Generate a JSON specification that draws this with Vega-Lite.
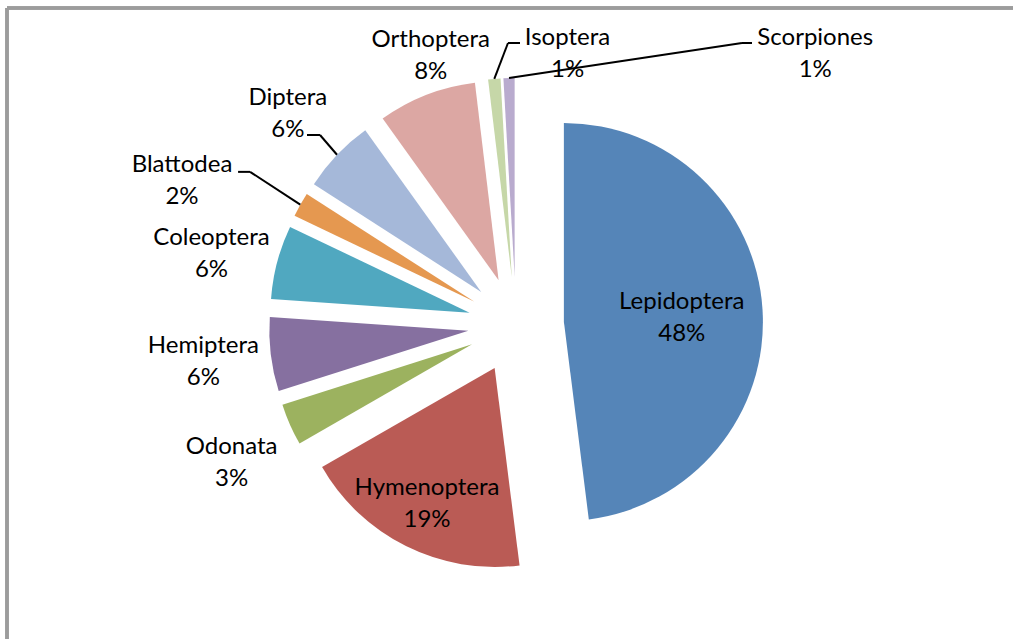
{
  "$schema": "https://vega.github.io/schema/vega-lite/v6.json",
  "width": 1006,
  "height": 631,
  "autosize": {"type": "none"},
  "padding": {"left": 7, "top": 8, "right": 0, "bottom": 0},
  "background": "white",
  "config": {"view": {"stroke": null}},
  "data": {
    "values": [
      {"order": 1, "name": "Lepidoptera", "pct": 48},
      {"order": 2, "name": "Hymenoptera", "pct": 18.7},
      {"order": 3, "name": "Odonata", "pct": 3.4},
      {"order": 4, "name": "Hemiptera", "pct": 6},
      {"order": 5, "name": "Coleoptera", "pct": 6},
      {"order": 6, "name": "Blattodea", "pct": 2},
      {"order": 7, "name": "Diptera", "pct": 6},
      {"order": 8, "name": "Orthoptera", "pct": 8},
      {"order": 9, "name": "Isoptera", "pct": 1},
      {"order": 10, "name": "Scorpiones", "pct": 0.9}
    ]
  },
  "transform": [
    {"stack": "pct", "groupby": [], "sort": [{"field": "order"}], "as": ["s0", "s1"]},
    {"calculate": "PI * (datum.s0 + datum.s1) / 100", "as": "mid"},
    {"calculate": "sin(datum.mid)", "as": "ex"},
    {"calculate": "cos(datum.mid)", "as": "ey"},
    {"calculate": "datum.pct > 30 ? 3.46 : datum.pct > 10 ? 4.16 : 6.56", "as": "L"},
    {"calculate": "datum.name == 'Orthoptera' ? 0.60 : datum.name == 'Blattodea' ? -1.23 : datum.name == 'Isoptera' ? 1.65 : datum.name == 'Scorpiones' ? 6.42 : datum.name == 'Odonata' ? 0.08 : 0", "as": "tx"},
    {"calculate": "datum.name == 'Orthoptera' ? -0.50 : datum.name == 'Blattodea' ? -0.20 : datum.name == 'Isoptera' ? -0.885 : datum.name == 'Scorpiones' ? -0.906 : datum.name == 'Odonata' ? -0.23 : datum.name == 'Coleoptera' ? -0.2 : datum.name == 'Diptera' ? -0.12 : datum.name == 'Lepidoptera' ? -0.08 : 0", "as": "ty"},
    {"calculate": "datum.ex * datum.L + datum.tx", "as": "lx"},
    {"calculate": "datum.ey * datum.L + datum.ty", "as": "ly"},
    {"calculate": "datum.name + '\\n' + format(datum.pct, '.0f') + '%'", "as": "label"}
  ],
  "layer": [
    {
      "mark": {"type": "rule", "stroke": "#9c9c9c", "strokeWidth": 2.5},
      "encoding": {
        "y": {"datum": 6.604, "type": "quantitative", "scale": {"domain": [-6.542, 6.604]}, "axis": null}
      }
    },
    {
      "mark": {"type": "rule", "stroke": "#9c9c9c", "strokeWidth": 2.5},
      "encoding": {
        "x": {"datum": -10.604, "type": "quantitative", "scale": {"domain": [-10.604, 10.354]}, "axis": null}
      }
    },
    {
      "mark": {"type": "arc", "radius": 199},
      "encoding": {
        "theta": {"field": "s0", "type": "quantitative", "stack": null, "scale": {"domain": [0, 100], "range": [0, 6.283185307]}},
        "theta2": {"field": "s1"},
        "x": {"field": "ex", "type": "quantitative", "scale": {"domain": [-10.604, 10.354]}, "axis": null},
        "y": {"field": "ey", "type": "quantitative", "scale": {"domain": [-6.542, 6.604]}, "axis": null},
        "color": {
          "field": "name",
          "type": "nominal",
          "legend": null,
          "scale": {
            "domain": ["Lepidoptera", "Hymenoptera", "Odonata", "Hemiptera", "Coleoptera", "Blattodea", "Diptera", "Orthoptera", "Isoptera", "Scorpiones"],
            "range": ["#5585b8", "#ba5b55", "#9cb25f", "#8670a0", "#50a8c0", "#e59850", "#a5b8d9", "#dca7a3", "#c6d7a8", "#b9abce"]
          }
        }
      }
    },
    {
      "transform": [
        {"filter": {"field": "name", "oneOf": ["Blattodea", "Diptera", "Isoptera", "Scorpiones"]}},
        {"calculate": "datum.ex * 5.146", "as": "ax"},
        {"calculate": "datum.ey * 5.146", "as": "ay"},
        {"calculate": "datum.name == 'Blattodea' ? -5.54 : datum.name == 'Diptera' ? -4.083 : datum.name == 'Isoptera' ? -0.167 : 4.708", "as": "bx"},
        {"calculate": "datum.name == 'Blattodea' ? 3.19 : datum.name == 'Diptera' ? 3.958 : 5.875", "as": "by"}
      ],
      "mark": {"type": "rule", "stroke": "black", "strokeWidth": 2},
      "encoding": {
        "x": {"field": "ax", "type": "quantitative", "scale": {"domain": [-10.604, 10.354]}, "axis": null},
        "y": {"field": "ay", "type": "quantitative", "scale": {"domain": [-6.542, 6.604]}, "axis": null},
        "x2": {"field": "bx"},
        "y2": {"field": "by"}
      }
    },
    {
      "transform": [
        {"filter": {"field": "name", "oneOf": ["Blattodea", "Diptera", "Isoptera", "Scorpiones"]}},
        {"calculate": "datum.name == 'Blattodea' ? -5.54 : datum.name == 'Diptera' ? -4.083 : datum.name == 'Isoptera' ? -0.167 : 4.708", "as": "bx"},
        {"calculate": "datum.name == 'Blattodea' ? 3.19 : datum.name == 'Diptera' ? 3.958 : 5.875", "as": "by"},
        {"calculate": "datum.name == 'Blattodea' ? -5.79 : datum.name == 'Diptera' ? -4.354 : datum.name == 'Isoptera' ? 0.083 : 4.917", "as": "cx"}
      ],
      "mark": {"type": "rule", "stroke": "black", "strokeWidth": 2},
      "encoding": {
        "x": {"field": "bx", "type": "quantitative", "scale": {"domain": [-10.604, 10.354]}, "axis": null},
        "y": {"field": "by", "type": "quantitative", "scale": {"domain": [-6.542, 6.604]}, "axis": null},
        "x2": {"field": "cx"},
        "y2": {"field": "by"}
      }
    },
    {
      "mark": {"type": "text", "font": "Lato", "fontSize": 24, "lineBreak": "\n", "lineHeight": 32, "align": "center", "baseline": "middle", "dy": -16, "color": "black"},
      "encoding": {
        "x": {"field": "lx", "type": "quantitative", "scale": {"domain": [-10.604, 10.354]}, "axis": null},
        "y": {"field": "ly", "type": "quantitative", "scale": {"domain": [-6.542, 6.604]}, "axis": null},
        "text": {"field": "label"}
      }
    }
  ]
}
